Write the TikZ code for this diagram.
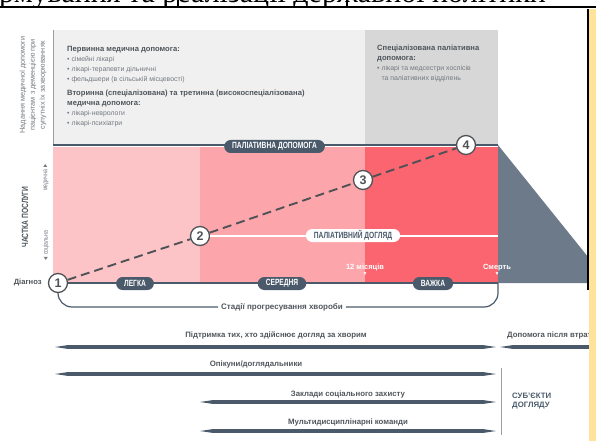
\documentclass[tikz,border=0pt]{standalone}
\usepackage{fontspec}
\setmainfont{Liberation Sans}
\newfontfamily\estrecha[FakeStretch=0.74]{Liberation Sans}
\newfontfamily\cabecera{Liberation Serif}
\usetikzlibrary{positioning}
\definecolor{pizarra}{HTML}{4A5A6B}
\definecolor{textogris}{HTML}{4F555B}
\definecolor{textoclaro}{HTML}{747980}
\definecolor{grisnumero}{HTML}{4E5257}
\definecolor{grislinea}{HTML}{9A9EA3}
\definecolor{grispanel}{HTML}{F0F0F0}
\definecolor{grisoscuro}{HTML}{D7D7D7}
\definecolor{rosa1}{HTML}{FDC4C7}
\definecolor{rosa2}{HTML}{FCA6AB}
\definecolor{rosa3}{HTML}{FA656F}
\definecolor{triangulo}{HTML}{6C7A8A}
\definecolor{amarillo}{HTML}{FFE39B}
\newcommand{\barra}[3]{\fill[pizarra] (#1,#3) -- ({#1+12},{#3-1.8}) -- ({#2-12},{#3-1.8}) -- (#2,#3) -- ({#2-12},{#3+1.8}) -- ({#1+12},{#3+1.8}) -- cycle;}
\tikzstyle{pildora} = [fill=pizarra, text=white, rounded corners=6.5pt, inner xsep=8pt, inner ysep=0pt, minimum height=13pt, font=\estrecha\bfseries\fontsize{9}{9}\selectfont]
\tikzstyle{pildorablanca} = [pildora, fill=white, text=pizarra]
\tikzstyle{numero} = [circle, draw=grisnumero, fill=white, line width=1.3pt, minimum size=19pt, inner sep=0pt, text=grisnumero, font=\bfseries\fontsize{12.5}{12.5}\selectfont]
\tikzstyle{linea} = [draw=pizarra, line width=2.6pt]
\tikzstyle{discontinua} = [draw=grisnumero, line width=1.9pt, dash pattern=on 9pt off 5pt]
\tikzstyle{etiqueta} = [text=textogris, inner sep=1pt, font=\bfseries\fontsize{7.8}{9}\selectfont]
\tikzstyle{marca} = [text=white, inner sep=0pt, align=center, font=\bfseries\fontsize{7.5}{7.5}\selectfont]
\tikzstyle{bloque} = [anchor=north west, align=left, inner sep=0pt, text=textoclaro, font=\fontsize{6.9}{10}\selectfont]
\tikzstyle{lateral} = [rotate=90, inner sep=0pt, align=center, text=textoclaro, font=\fontsize{7.3}{10}\selectfont]

\begin{document}
\begin{tikzpicture}[x=1pt, y=-1pt]
	\useasboundingbox (0,0) rectangle (596,446);
	\begin{scope}
		\clip (0,0) rectangle (596,7);
		\node[anchor=base west, inner sep=0pt, font=\cabecera\fontsize{30}{30}\selectfont] (encabezado) at (-1,3) {рмування та реалізації державної політики};
	\end{scope}
	\draw[line width=1.2pt] (0,7) -- (596,7) (178,0) -- (178,7) (347,0) -- (347,7);
	\fill[grispanel] (53,30) rectangle (365,145);
	\fill[grisoscuro] (365,30) rectangle (498,145);
	\draw[grislinea, line width=0.6pt] (53,30) -- (53,145);
	\fill[rosa1] (53,147) rectangle (200,283);
	\fill[rosa2] (200,147) rectangle (365,283);
	\fill[rosa3] (365,147) rectangle (498,283);
	\fill[triangulo] (498,145) -- (609,283) -- (498,283) -- cycle;

	\node[lateral] (nadannia) at (33,85) {Надання медичної допомоги\\пацієнтам з деменцією при\\супутніх їх захворюваннях};
	\node[lateral, text=textogris, font=\estrecha\bfseries\fontsize{9}{9}\selectfont] (chastka) at (25,217) {ЧАСТКА ПОСЛУГИ};
	\node[lateral, font=\estrecha\fontsize{7}{7}\selectfont] (sotsialna) at (46,246) {◄ соціальна};
	\node[lateral, font=\estrecha\fontsize{7}{7}\selectfont] (medychna) at (46,177) {медична ►};

	\node[bloque] (pervynna) at (67,46) {{\color{textogris}\bfseries\fontsize{7.6}{9}\selectfont Первинна медична допомога:}\\ \textbullet\ сімейні лікарі\\ \textbullet\ лікарі-терапевти дільничні\\ \textbullet\ фельдшери (в сільській місцевості)};
	\node[bloque] (vtorynna) at (67,90) {{\color{textogris}\bfseries\fontsize{7.6}{9}\selectfont Вторинна (спеціалізована) та третинна (високоспеціалізована)}\\{\color{textogris}\bfseries\fontsize{7.6}{9}\selectfont медична допомога:}\\ \textbullet\ лікарі-неврологи\\ \textbullet\ лікарі-психіатри};
	\node[bloque] (spetsializovana) at (377,45) {{\color{textogris}\bfseries\fontsize{7.6}{9}\selectfont Спеціалізована паліативна}\\{\color{textogris}\bfseries\fontsize{7.6}{9}\selectfont допомога:}\\ \textbullet\ лікарі та медсестри хоспісів\\ \phantom{\textbullet\ }та паліативних відділень};

	\node[numero] (uno) at (58,283) {1};
	\node[numero] (dos) at (200,236) {2};
	\node[numero] (tres) at (363,180) {3};
	\node[numero] (cuatro) at (466,145) {4};
	\node[etiqueta, left=5pt of uno, font=\bfseries\fontsize{7.6}{7.6}\selectfont] (diagnoz) {Діагноз};

	\coordinate (inipal) at (53,145);
	\coordinate (finpal) at (498,145);
	\coordinate (fineje) at (498,283);
	\coordinate (findohliad) at (498,236);
	\draw[linea] (inipal) -- (cuatro) -- (finpal);
	\draw[linea] (uno) -- (fineje);
	\draw[discontinua] (uno) -- (dos) -- (tres) -- (cuatro);
	\draw[white, line width=2pt] (dos) -- (findohliad);

	\node[pildora] (paldopomoha) at (274.5,146.5) {ПАЛІАТИВНА ДОПОМОГА};
	\node[pildorablanca] (paldohliad) at (353,235.5) {ПАЛІАТИВНИЙ ДОГЛЯД};
	\node[pildora] (lehka) at (135,283.5) {ЛЕГКА};
	\node[pildora] (serednia) at (282,283.5) {СЕРЕДНЯ};
	\node[pildora] (vazhka) at (433,283.5) {ВАЖКА};
	\node[marca] (misiatsi) at (365,270) {12 місяців\\[-1pt]{\fontsize{5}{5}\selectfont ▼}};
	\node[marca] (smert) at (497,270) {Смерть\\[-1pt]{\fontsize{5}{5}\selectfont ▼}};

	\node[etiqueta, font=\bfseries\fontsize{8}{9}\selectfont, inner xsep=3pt] (stadii) at (282,307) {Стадії прогресування хвороби};
	\draw[pizarra, line width=1.2pt, rounded corners=14pt] (uno.south) |- (stadii.west);
	\draw[pizarra, line width=1.2pt, rounded corners=14pt] (stadii.east) -| (fineje);

	\barra{55}{496}{347}
	\node[etiqueta] (pidtrymka) at (276,335) {Підтримка тих, хто здійснює догляд за хворим};
	\barra{500}{640}{347}
	\node[etiqueta, anchor=west] (vtrata) at (506,335) {Допомога після втрати};
	\barra{55}{496}{374}
	\node[etiqueta] (opikuny) at (256,364) {Опікуни/доглядальники};
	\barra{200}{496}{402}
	\node[etiqueta] (zaklady) at (348,394) {Заклади соціального захисту};
	\barra{200}{496}{431}
	\node[etiqueta] (komandy) at (348,422) {Мультидисциплінарні команди};
	\draw[grislinea, line width=0.8pt] (501,368) -- (501,435);
	\node[etiqueta, anchor=west, align=left, text=pizarra] (subiekty) at (511,401) {СУБ'ЄКТИ\\ДОГЛЯДУ};

	\fill[amarillo] (589,9) rectangle (596,441);
	\draw[line width=1.6pt] (588,9) -- (588,290);
\end{tikzpicture}
\end{document}
